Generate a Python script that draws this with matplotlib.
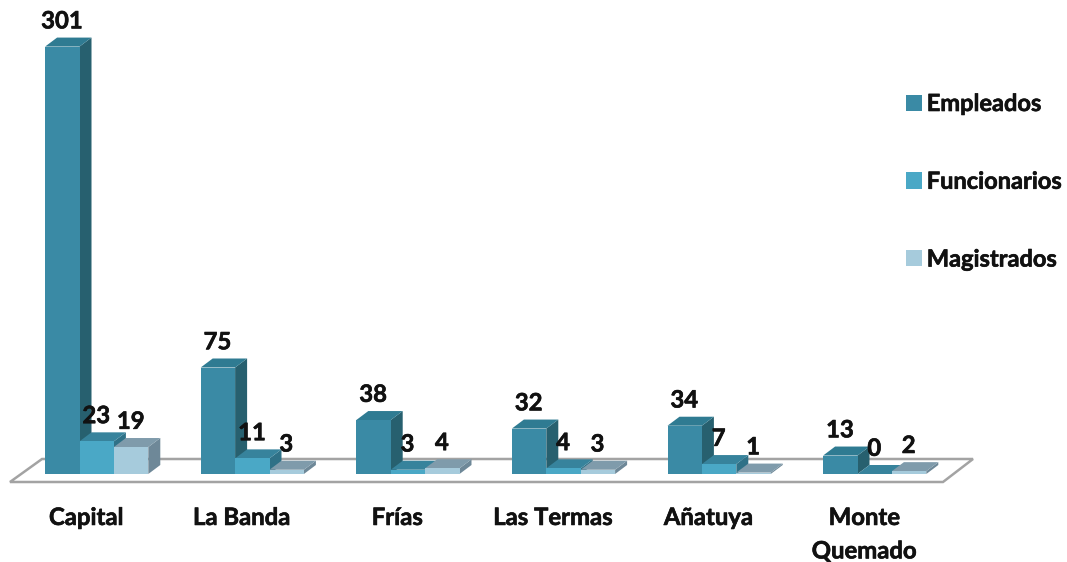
#!/usr/bin/env python
import matplotlib
matplotlib.use('Agg')
import matplotlib.pyplot as plt
import matplotlib.patheffects as pe
from matplotlib.patches import Polygon, Patch

plt.rcParams['font.family'] = ['Lato', 'DejaVu Sans']

categories = ['Capital', 'La Banda', 'Frías', 'Las Termas', 'Añatuya', 'Monte\nQuemado']
empleados = [301, 75, 38, 32, 34, 13]
funcionarios = [23, 11, 3, 4, 7, 0]
magistrados = [19, 3, 4, 3, 1, 2]

W, H = 1067, 562
GROUP_PX = 155.6
BAR_PX = 34.4
FIRST_PX = 96.7      # centre of the first group
BASE_PX = 474
UNIT_PX = 1.42       # pixels for one unit on the y scale
DX_PX, DY_PX = 12, 9

# front, top, side
COLORS = {
    'Empleados': ('#3a8aa5', '#2f7b92', '#27606f'),
    'Funcionarios': ('#4aa8c6', '#37839c', '#2f7187'),
    'Magistrados': ('#a6cbdc', '#7f9bab', '#6e8898'),
}
TEXT = '#111111'
# the source font is heavier than Lato Bold
HEAVY = [pe.withStroke(linewidth=0.45, foreground=TEXT)]


def to_x(px):
    return (px - FIRST_PX) / GROUP_PX


def to_y(py):
    return (BASE_PX - py) / UNIT_PX


def draw_bar(ax, x, value, colors):
    w = BAR_PX / GROUP_PX
    dx = DX_PX / GROUP_PX
    dy = DY_PX / UNIT_PX
    front, top, side = colors
    ax.add_patch(Polygon([(x + w, 0), (x + w + dx, dy), (x + w + dx, value + dy), (x + w, value)],
                         facecolor=side, edgecolor='none', zorder=3))
    ax.add_patch(Polygon([(x, value), (x + dx, value + dy), (x + w + dx, value + dy), (x + w, value)],
                         facecolor=top, edgecolor='none', zorder=3))
    if value > 0:
        ax.add_patch(Polygon([(x, 0), (x + w, 0), (x + w, value), (x, value)],
                             facecolor=front, edgecolor='none', zorder=3))


def main():
    fig = plt.figure(figsize=(W / 100, H / 100), dpi=100)
    ax = fig.add_axes([0, 0, 1, 1])
    ax.set_xlim(to_x(0), to_x(W))
    ax.set_ylim(to_y(H), to_y(0))
    ax.axis('off')

    # floor of the 3d chart
    floor = [(10, 482), (943, 482), (973, 459), (42, 459)]
    ax.add_patch(Polygon([(to_x(a), to_y(b)) for a, b in floor], closed=True,
                         facecolor='white', edgecolor='#a3a3a3', linewidth=1.8, zorder=1))

    series = [('Empleados', empleados), ('Funcionarios', funcionarios), ('Magistrados', magistrados)]
    w = BAR_PX / GROUP_PX
    for i, cat in enumerate(categories):
        for j, (name, values) in enumerate(series):
            x = i + (j - 1.5) * w
            draw_bar(ax, x, values[i], COLORS[name])
        ax.annotate(cat, (i, 0), xytext=(-7.5, -23), textcoords='offset points', ha='center', va='top',
                    fontsize=17.2, fontweight='bold', color=TEXT, linespacing=1.55, zorder=5,
                    path_effects=HEAVY)

    # labels go on top so they stay readable over the side faces
    for i in range(len(categories)):
        for j, (name, values) in enumerate(series):
            x = i + (j - 1) * w
            ax.annotate(str(values[i]), (x, values[i]), xytext=(-0.3, 18.5), textcoords='offset points',
                        ha='center', va='center', fontsize=17.2, fontweight='bold', color=TEXT, zorder=6,
                        path_effects=HEAVY)

    handles = [Patch(facecolor=COLORS[name][0], edgecolor='none', label=name) for name, _ in series]
    leg = ax.legend(handles=handles, loc='upper left', bbox_to_anchor=(906 / W, 1 - 92 / H),
                    bbox_transform=ax.transAxes, frameon=False, handlelength=0.68, handleheight=0.68,
                    handletextpad=0.2, labelspacing=2.32, borderpad=0, borderaxespad=0,
                    prop={'size': 17, 'weight': 'bold'}, labelcolor=TEXT)
    for t in leg.get_texts():
        t.set_path_effects(HEAVY)

    fig.savefig('out.png', dpi=100)


if __name__ == '__main__':
    main()
